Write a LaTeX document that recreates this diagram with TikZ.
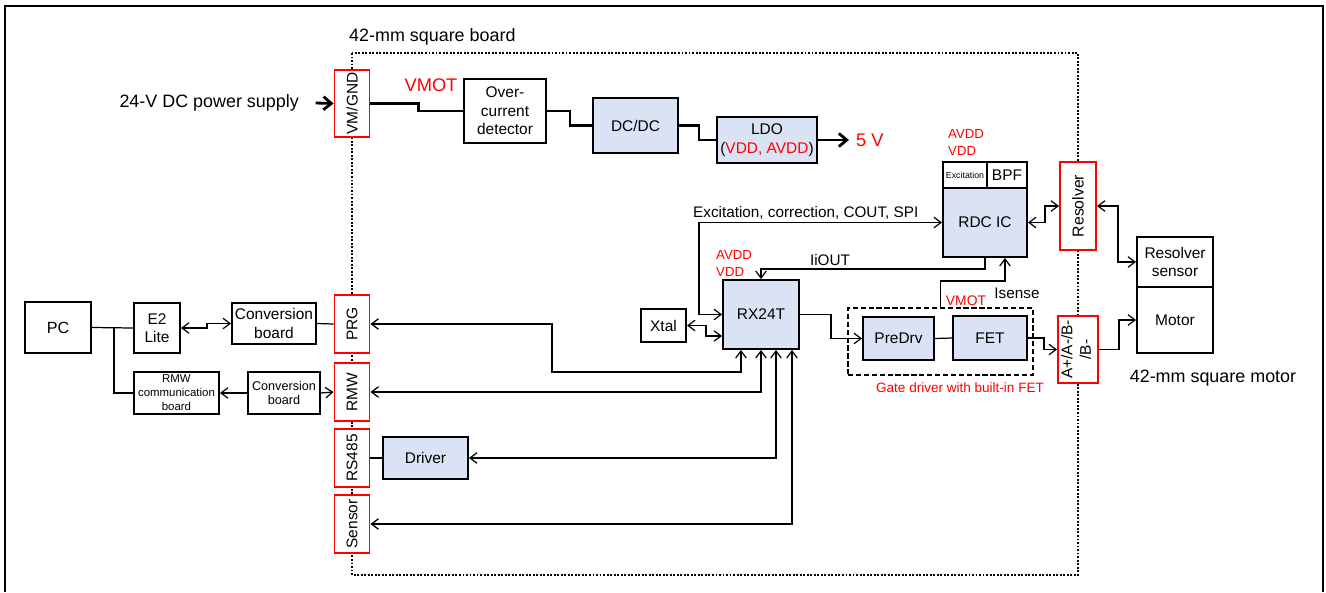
\documentclass[tikz,border=0pt]{standalone}
\usepackage{fontspec}
\setmainfont{Liberation Sans}
\usetikzlibrary{arrows.meta, positioning}

\definecolor{boxblue}{RGB}{218,227,243}
\newcommand{\fsize}[2]{\fontsize{#1}{#2}\selectfont}

\tikzset{
    blk/.style={draw, line width=1.1pt, fill=white, align=center, inner sep=1pt, font=\fsize{8.8}{10.5}},
    blueblk/.style={blk, fill=boxblue},
    port/.style={draw=red, line width=1.1pt, fill=white, inner sep=0pt, font=\fsize{8.8}{10.5}, minimum width=0.70cm, minimum height=1.16cm},
    sig/.style={line width=0.7pt},
    power/.style={line width=1.6pt},
    redlbl/.style={text=red, align=left},
}

\begin{document}
\begin{tikzpicture}[x=0.02cm,y=-0.02cm, >={Straight Barb[length=4pt,width=6pt]}]
    \useasboundingbox (0,0) rectangle (1326,592);
    \fill[white] (0,0) rectangle (1326,592);
    \draw[line width=1.3pt] (5,592) -- (5,6) -- (1323,6) -- (1323,592);
    \draw[line width=1.3pt, dash pattern=on 1.1pt off 0.9pt] (352,53) rectangle (1078,575);
    \node[anchor=west, font=\fsize{10.2}{12}] (boardlbl) at (343,37) {42-mm square board};

    \node[port, minimum height=1.34cm] (vmgnd) at (352,103.5) {\rotatebox{90}{VM/GND}};
    \node[port] (prg) at (352,324) {\rotatebox{90}{PRG}};
    \node[port] (rmw) at (352,392) {\rotatebox{90}{RMW}};
    \node[port] (rs485) at (352,458) {\rotatebox{90}{RS485}};
    \node[port] (sensor) at (352,524) {\rotatebox{90}{Sensor}};
    \node[port, minimum width=0.72cm, minimum height=1.76cm, font=\fsize{9}{10.5}] (resolver) at (1078,206) {\rotatebox{90}{Resolver}};
    \node[port, minimum width=0.80cm, minimum height=1.34cm] (apm) at (1078,349.5) {\rotatebox{90}{\begin{tabular}{@{}c@{}}A+/A-/B-\\/B-\end{tabular}}};

    \node[anchor=east, font=\fsize{10.2}{12}] (supply) at (305,103) {24-V DC power supply};
    \node[text=red, font=\fsize{10.4}{12}] (vmot) at (431,85) {VMOT};
    \node[blk, minimum width=1.64cm, minimum height=1.28cm] (over) at (505,111) {Over-\\current\\detector};
    \node[blueblk, minimum width=1.70cm, minimum height=1.10cm] (dcdc) at (635.5,125.5) {DC/DC};
    \node[blueblk, minimum width=2.0cm, minimum height=0.92cm] (ldo) at (767,140) {LDO\\(\textcolor{red}{VDD, AVDD})};

    \node[blk, minimum width=1.32cm, minimum height=1.02cm, font=\fsize{9.2}{10.5}] (pc) at (58,327.5) {PC};
    \node[blk, minimum width=0.92cm, minimum height=1.0cm] (e2) at (157,328) {E2\\Lite};
    \node[blk, minimum width=1.68cm, minimum height=0.82cm] (conv1) at (274,323.5) {Conversion\\board};
    \node[blk, minimum width=1.70cm, minimum height=0.84cm, font=\fsize{6.5}{8}] (rmwcomm) at (176.5,393) {RMW\\communication\\board};
    \node[blk, minimum width=1.44cm, minimum height=0.84cm, font=\fsize{7.2}{8.5}] (conv2) at (284,393) {Conversion\\board};
    \node[blueblk, minimum width=1.70cm, minimum height=0.84cm] (driver) at (425.5,458) {Driver};

    \node[blueblk, minimum width=1.52cm, minimum height=1.38cm] (rx) at (761,314.5) {RX24T};
    \node[redlbl, anchor=west, font=\fsize{7.5}{9.6}] (rxpwr) at (710,263.5) {AVDD\\VDD};
    \node[blk, minimum width=0.90cm, minimum height=0.66cm] (xtal) at (663.5,325.5) {Xtal};
    \node[draw, line width=1.1pt, dash pattern=on 3pt off 1.5pt, minimum width=3.7cm, minimum height=1.34cm] (gate) at (940.5,341.5) {};
    \node[blueblk, minimum width=1.42cm, minimum height=0.86cm] (predrv) at (898.5,338.5) {PreDrv};
    \node[blueblk, minimum width=1.48cm, minimum height=0.88cm] (fet) at (990,338) {FET};
    \node[text=red, font=\fsize{7.7}{9}] (gatelbl) at (960,388) {Gate driver with built-in FET};

    \node[blk, minimum width=0.88cm, minimum height=0.52cm, font=\fsize{5}{6}] (exc) at (965,175) {Excitation};
    \node[blk, minimum width=0.80cm, minimum height=0.52cm] (bpf) at (1007,175) {BPF};
    \node[blueblk, minimum width=1.68cm, minimum height=1.38cm] (rdc) at (985,222.5) {RDC IC};
    \node[redlbl, anchor=west, font=\fsize{7.5}{9.6}] (rdcpwr) at (942,142.5) {AVDD\\VDD};

    \node[blk, minimum width=1.52cm, minimum height=1.0cm] (ressens) at (1175,262) {Resolver\\sensor};
    \node[blk, minimum width=1.52cm, minimum height=1.32cm] (motor) at (1175,320) {Motor};
    \node[font=\fsize{10.2}{12}] (motorlbl) at (1213,378) {42-mm square motor};

    \draw[power, -{Straight Barb[length=4.5pt,width=7.5pt]}] ([xshift=6pt]supply.east) -- (vmgnd.west);
    \draw[power] (vmgnd.east) -- ++(48,0) |- (over.west);
    \draw[power] (over.east) -- ++(23,0) |- (dcdc.west);
    \draw[power] (dcdc.east) -- ++(20,0) |- (ldo.west);
    \draw[power, -{Straight Barb[length=4.5pt,width=7.5pt]}] (ldo.east) -- ++(31,0) node[right, text=red, font=\fsize{10.4}{12}] (fivev) {5 V};

    \draw[sig] (pc.east) -- (e2.west);
    \draw[sig] (pc.east) ++(22,0) |- (rmwcomm.west);
    \draw[sig, <->] (e2.east) -- ++(26,0) |- (conv1.west);
    \draw[sig] (conv1.east) -- (prg.west);
    \draw[sig, <-] (rmwcomm.east) -- (conv2.west);
    \draw[sig, ->] (conv2.east) -- (rmw.west);
    \draw[sig] (rs485.east) -- (driver.west);

    \draw[sig, <->] (prg.east) -| (552,372) -| ([xshift=-0.4cm]rx.south);
    \draw[sig, <->] (rmw.east) -| (rx.south);
    \draw[sig, <->] (driver.east) -| ([xshift=0.3cm]rx.south);
    \draw[sig, <->] (sensor.east) -| ([xshift=0.62cm]rx.south);
    \draw[sig, <->] (xtal.east) -- ++(19,0) |- ([yshift=-0.43cm]rx.west);
    \draw[sig, <->] (rx.west) -- ++(-23,0) |- (rdc.west);
    \node[anchor=west, font=\fsize{8.7}{10}] (exclbl) at (687,213) {Excitation, correction, COUT, SPI};
    \draw[sig, ->] (rdc.south) -- ++(0,11) -| (rx.north);
    \node[font=\fsize{8.7}{10}] (iioutlbl) at (830,260) {IiOUT};
    \draw[sig, ->] (gate.north) -- ++(0,-26) -| ([xshift=0.4cm]rdc.south);
    \node[font=\fsize{8.7}{10}] (isenselbl) at (1017,293) {Isense};
    \node[text=red, font=\fsize{7.9}{10}] (vmotlbl) at (966,301) {VMOT};

    \draw[sig, ->] (rx.east) -- ++(31,0) |- (predrv.west);
    \draw[sig] (predrv.east) -- (fet.west);
    \draw[sig, ->] (fet.east) -- ++(16,0) |- (apm.west);
    \draw[sig, ->] (apm.east) -- ++(20,0) |- (motor.west);
    \draw[sig, <->] (rdc.east) -- ++(17,0) |- (resolver.west);
    \draw[sig, <->] (resolver.east) -- ++(21,0) |- (ressens.west);
\end{tikzpicture}
\end{document}
